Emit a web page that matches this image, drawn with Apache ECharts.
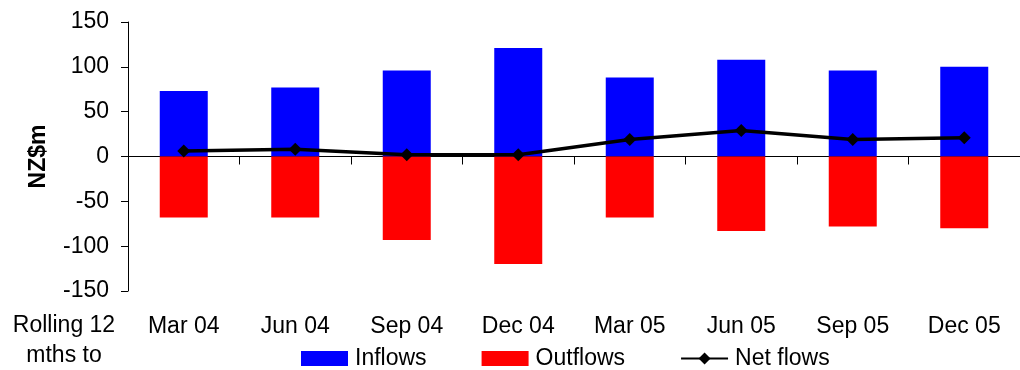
<!DOCTYPE html>
<html>
<head>
<meta charset="utf-8">
<script src="https://cdn.jsdelivr.net/npm/echarts@6/dist/echarts.min.js"></script>
<style>
  html, body { margin: 0; padding: 0; background: #fff; }
  #chart { width: 1020px; height: 370px; }
</style>
</head>
<body>
<div id="chart"></div>
<script>
// Rolling 12-month flows, NZ$m
const categories = ['Mar 04', 'Jun 04', 'Sep 04', 'Dec 04', 'Mar 05', 'Jun 05', 'Sep 05', 'Dec 05'];
const inflows  = [73, 77, 96, 121, 88, 108, 96, 100];
const outflows = [-68, -68, -93, -120, -68, -83, -78, -80];
const netFlows = [6, 8, 2, 2, 19, 29, 19, 21];
const yTicks = { min: -150, max: 150, interval: 50 };

const FONT = 'Liberation Sans, Arial, sans-serif';
const chart = echarts.init(document.getElementById('chart'), null, { renderer: 'canvas' });

chart.setOption({
  animation: false,
  backgroundColor: '#ffffff',
  textStyle: { fontFamily: FONT, color: '#000' },
  grid: { left: 128, top: 22, width: 902, height: 269, containLabel: false },
  legend: {
    left: 296,
    top: 342,
    itemWidth: 47,
    itemHeight: 15,
    itemGap: 55,
    textStyle: { fontFamily: FONT, fontSize: 23, color: '#000', padding: [0, 0, 0, 2] },
    data: [
      { name: 'Inflows', icon: 'rect' },
      { name: 'Outflows', icon: 'rect' },
      { name: 'Net flows' }
    ]
  },
  graphic: [
    {
      type: 'text',
      x: 64,
      y: 311,
      style: {
        text: 'Rolling 12\nmths to',
        fontFamily: FONT,
        fontSize: 23,
        lineHeight: 30,
        fill: '#000',
        align: 'center',
        verticalAlign: 'top'
      }
    }
  ],
  xAxis: [
    {
      // zero line with category tick marks
      type: 'category',
      data: categories,
      position: 'bottom',
      axisLine: { onZero: true, lineStyle: { color: '#000', width: 1 } },
      axisTick: { show: true, alignWithLabel: false, length: 8, lineStyle: { color: '#000' } },
      axisLabel: { show: false },
      splitLine: { show: false }
    },
    {
      // category labels along the bottom of the plot
      type: 'category',
      data: categories,
      position: 'bottom',
      axisLine: { show: false, onZero: false },
      axisTick: { show: false },
      axisLabel: { show: true, fontFamily: FONT, fontSize: 23, color: '#000', margin: 24, interval: 0 },
      splitLine: { show: false }
    }
  ],
  yAxis: {
    type: 'value',
    min: yTicks.min,
    max: yTicks.max,
    interval: yTicks.interval,
    name: 'NZ$m',
    nameLocation: 'middle',
    nameGap: 78,
    nameTextStyle: { fontFamily: FONT, fontSize: 23, fontWeight: 'bold', color: '#000' },
    axisLine: { show: true, lineStyle: { color: '#000', width: 1 } },
    axisTick: { show: true, length: 7, lineStyle: { color: '#000' } },
    axisLabel: { fontFamily: FONT, fontSize: 23, color: '#000', margin: 19 },
    splitLine: { show: false }
  },
  series: [
    {
      name: 'Inflows',
      type: 'bar',
      stack: 'flows',
      barWidth: 48,
      itemStyle: { color: '#0000ff' },
      data: inflows
    },
    {
      name: 'Outflows',
      type: 'bar',
      stack: 'flows',
      barWidth: 48,
      itemStyle: { color: '#ff0000' },
      data: outflows
    },
    {
      name: 'Net flows',
      type: 'line',
      symbol: 'diamond',
      symbolSize: 13,
      lineStyle: { color: '#000', width: 3.5 },
      itemStyle: { color: '#000' },
      data: netFlows,
      z: 5
    }
  ]
});
</script>
</body>
</html>
